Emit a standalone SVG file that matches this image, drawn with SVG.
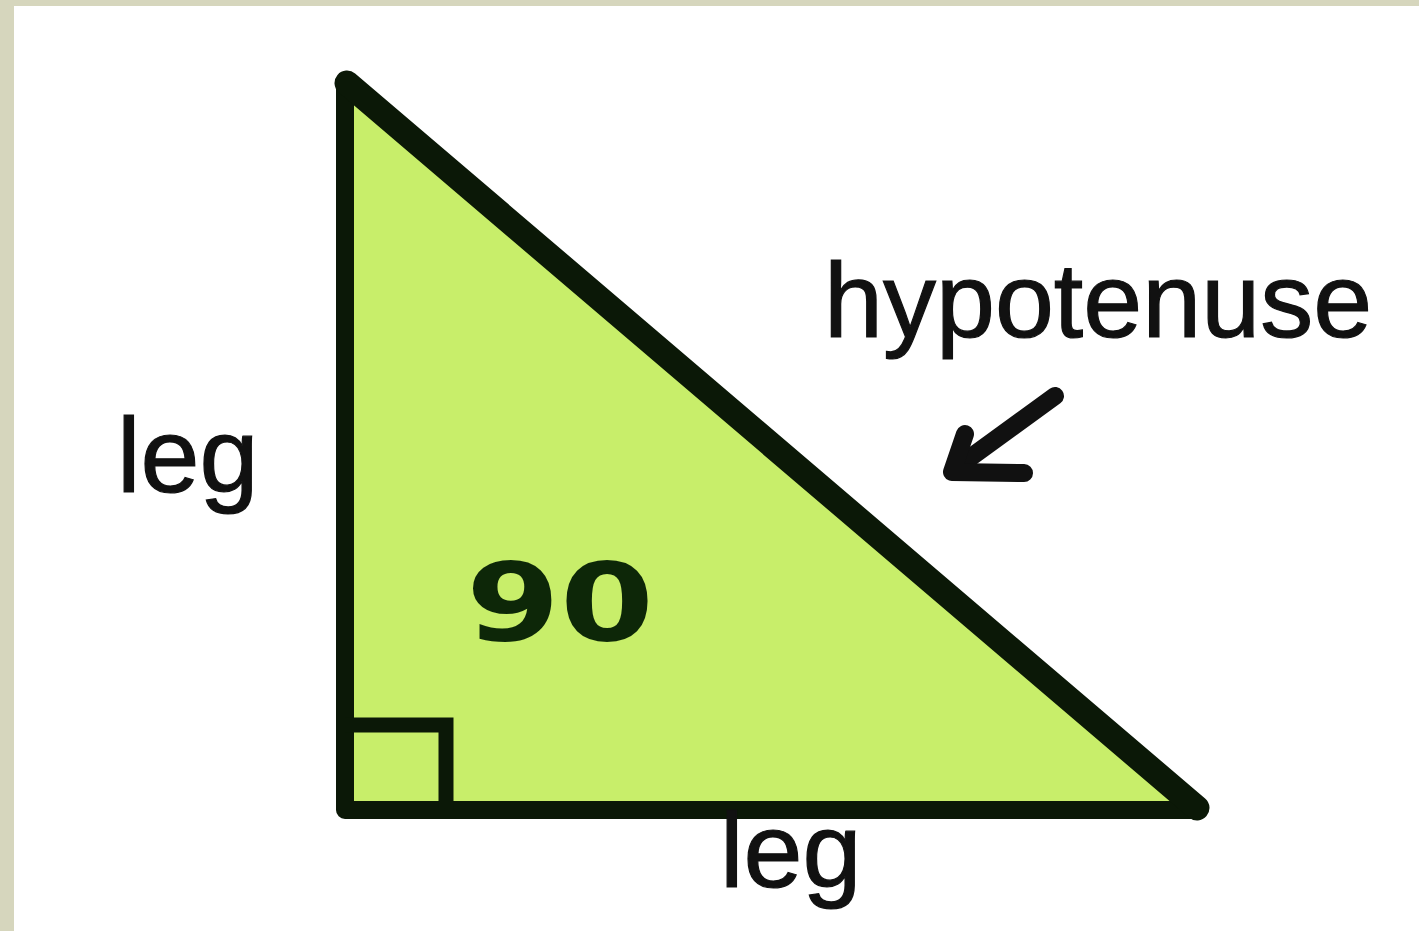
<svg xmlns="http://www.w3.org/2000/svg" width="1419" height="931" viewBox="0 0 1419 931">
  <style>
    .lbl { font-family: "Liberation Sans", Arial, sans-serif; font-size: 106px; fill: #111111; stroke: #111111; stroke-width: 1.2px; }
    .edge { fill: none; stroke: #0b1807; stroke-linejoin: miter; }
  </style>
  <rect x="0" y="0" width="1419" height="931" fill="#d6d6bd"/>
  <rect x="14" y="6" width="1405" height="925" fill="#ffffff"/>

  <g id="triangle">
    <polygon points="345,82 345,810 1198,810" fill="#c8ee6a" stroke="#0b1807" stroke-width="18" stroke-linejoin="round"/>
    <line x1="347" y1="83" x2="1197" y2="808" stroke="#0b1807" stroke-width="25" stroke-linecap="round"/>
    <polyline class="edge" points="345,725 446,725 446,810" stroke-width="15"/>
    <text x="466" y="640" font-family="'DejaVu Sans', sans-serif" font-weight="bold" font-size="108" fill="#0d2708" textLength="188" lengthAdjust="spacingAndGlyphs">90</text>
  </g>

  <g id="label-leg-left">
    <text class="lbl" x="117" y="492">leg</text>
  </g>
  <g id="label-leg-bottom">
    <text class="lbl" x="720" y="887">leg</text>
  </g>
  <g id="label-hypotenuse">
    <text class="lbl" x="824" y="337">hypotenuse</text>
  </g>

  <g id="connectors">
    <line x1="1055" y1="396" x2="956" y2="468" stroke="#111111" stroke-width="18" stroke-linecap="round"/>
    <polyline points="965,434 952,472 1024,473" fill="none" stroke="#111111" stroke-width="18" stroke-linecap="round" stroke-linejoin="round"/>
  </g>
</svg>
